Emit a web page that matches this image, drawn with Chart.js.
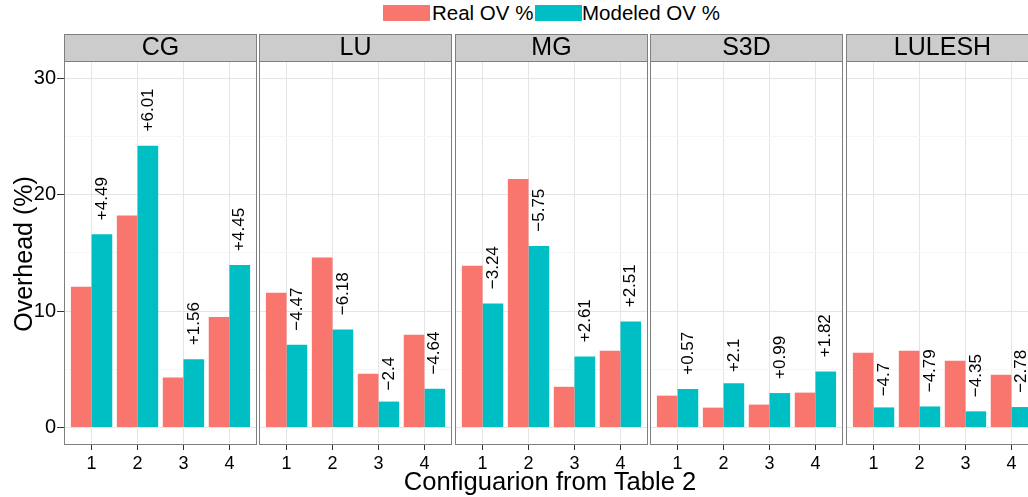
<!DOCTYPE html>
<html>
<head>
<meta charset="utf-8">
<script src="https://cdn.jsdelivr.net/npm/chart.js@4.4.1/dist/chart.umd.min.js"></script>
<style>
  body { margin: 0; background: #fff; overflow: hidden; font-family: "Liberation Sans", Arial, sans-serif; }
  #page { position: relative; width: 1028px; height: 497px; overflow: hidden; }
  canvas { position: absolute; top: 34px; }
  .swatch { position: absolute; top: 5px; width: 47px; height: 16px; }
  .legtext { position: absolute; top: 3px; font-size: 20.5px; line-height: 20px; color: #000; white-space: nowrap; }
  #ytitle { position: absolute; left: -127px; top: 239px; width: 300px; height: 30px; line-height: 30px;
            text-align: center; font-size: 25px; transform: rotate(-90deg); white-space: nowrap; }
  #xtitle { position: absolute; left: 300px; top: 466px; width: 500px; height: 30px; line-height: 30px;
            text-align: center; font-size: 25.6px; white-space: nowrap; }
</style>
</head>
<body>
<div id="page">
  <div class="swatch" style="left:383px;background:#F8766D"></div>
  <div class="legtext" style="left:432px">Real OV %</div>
  <div class="swatch" style="left:535px;background:#00BFC4"></div>
  <div class="legtext" style="left:582px">Modeled OV %</div>

  <canvas id="cCG" width="257" height="463" style="left:0px"></canvas>
  <canvas id="cLU" width="193" height="463" style="left:259px"></canvas>
  <canvas id="cMG" width="193" height="463" style="left:455px"></canvas>
  <canvas id="cS3D" width="193" height="463" style="left:650px"></canvas>
  <canvas id="cLULESH" width="193" height="463" style="left:846px"></canvas>

  <div id="ytitle">Overhead (%)</div>
  <div id="xtitle">Configuarion from Table 2</div>
</div>

<script>
const configs = ['1', '2', '3', '4'];
const yTicks = [0, 5, 10, 15, 20, 25, 30];

// values
const realCG = [12.1, 18.2, 4.3, 9.5];
const modelCG = [16.59, 24.21, 5.86, 13.95];
const diffCG = ['+4.49', '+6.01', '+1.56', '+4.45'];

const realLU = [11.57, 14.6, 4.63, 7.97];
const modelLU = [7.1, 8.42, 2.23, 3.33];
const diffLU = ['\u22124.47', '\u22126.18', '\u22122.4', '\u22124.64'];

const realMG = [13.9, 21.35, 3.5, 6.6];
const modelMG = [10.66, 15.6, 6.11, 9.11];
const diffMG = ['\u22123.24', '\u22125.75', '+2.61', '+2.51'];

const realS3D = [2.74, 1.71, 1.97, 3.0];
const modelS3D = [3.31, 3.81, 2.96, 4.82];
const diffS3D = ['+0.57', '+2.1', '+0.99', '+1.82'];

const realLULESH = [6.43, 6.6, 5.74, 4.54];
const modelLULESH = [1.73, 1.81, 1.39, 1.76];
const diffLULESH = ['\u22124.7', '\u22124.79', '\u22124.35', '\u22122.78'];

const FONT = '"Liberation Sans", Arial, sans-serif';

// grey strip on top + border around the panel
const facetPlugin = {
    id: 'facet',
    beforeDraw(chart, args, opts) {
        const ctx = chart.ctx;
        const a = chart.chartArea;
        ctx.save();
        ctx.fillStyle = '#CCCCCC';
        ctx.fillRect(a.left, 0, a.right - a.left, a.top);
        ctx.strokeStyle = '#7F7F7F';
        ctx.lineWidth = 1;
        ctx.strokeRect(a.left + 0.5, 0.5, a.right - a.left - 1, a.top);
        ctx.fillStyle = '#000';
        ctx.font = '25px ' + FONT;
        ctx.textAlign = 'center';
        ctx.textBaseline = 'middle';
        ctx.fillText(opts.title, (a.left + a.right) / 2, 14);
        ctx.restore();
    },
    afterDraw(chart) {
        const ctx = chart.ctx;
        const a = chart.chartArea;
        ctx.save();
        ctx.strokeStyle = '#7F7F7F';
        ctx.lineWidth = 1;
        ctx.strokeRect(a.left + 0.5, a.top + 0.5, a.right - a.left - 1, a.bottom - a.top - 1);
        ctx.restore();
    }
};

// rotated difference labels above the modeled bars
const diffPlugin = {
    id: 'diffs',
    afterDatasetsDraw(chart, args, opts) {
        const ctx = chart.ctx;
        const meta = chart.getDatasetMeta(1);
        ctx.save();
        ctx.font = '17px ' + FONT;
        ctx.fillStyle = '#000';
        ctx.textAlign = 'left';
        ctx.textBaseline = 'middle';
        meta.data.forEach((bar, i) => {
            const txt = opts.labels[i];
            const gap = ctx.measureText(txt).width * 0.33;
            ctx.save();
            ctx.translate(bar.x, bar.y - gap);
            ctx.rotate(-Math.PI / 2);
            ctx.fillText(txt, 0, 0);
            ctx.restore();
        });
        ctx.restore();
    }
};

function makePanel(id, title, real, modeled, diffs, showY) {
    new Chart(document.getElementById(id), {
        type: 'bar',
        data: {
            labels: configs,
            datasets: [{
                label: 'Real OV %',
                data: real,
                backgroundColor: '#F8766D',
                categoryPercentage: 0.9,
                barPercentage: 1.0
            }, {
                label: 'Modeled OV %',
                data: modeled,
                backgroundColor: '#00BFC4',
                categoryPercentage: 0.9,
                barPercentage: 1.0
            }]
        },
        options: {
            responsive: false,
            animation: false,
            layout: { padding: { top: 27 } },
            plugins: {
                legend: { display: false },
                tooltip: { enabled: false },
                facet: { title: title },
                diffs: { labels: diffs }
            },
            scales: {
                x: {
                    type: 'linear',
                    min: 0.4,
                    max: 4.6,
                    offset: false,
                    afterBuildTicks: (scale) => {
                        scale.ticks = configs.map((c, i) => ({ value: i + 1 }));
                    },
                    afterFit: (scale) => { scale.height = 52; },
                    border: { display: false },
                    grid: {
                        offset: false,
                        color: '#E5E5E5',
                        tickColor: '#333333',
                        tickLength: 5
                    },
                    ticks: {
                        padding: 3,
                        color: '#000',
                        font: { family: FONT, size: 18 },
                        maxRotation: 0,
                        callback: (v, i) => configs[i]
                    }
                },
                y: {
                    min: -1.5,
                    max: 31.48,
                    afterBuildTicks: (scale) => {
                        scale.ticks = yTicks.map(v => ({ value: v }));
                    },
                    afterFit: (scale) => { scale.width = showY ? 64 : 0; },
                    border: { display: false },
                    grid: {
                        color: (c) => c.tick && c.tick.value % 10 === 0 ? '#E5E5E5' : '#F6F6F6',
                        tickColor: (c) => c.tick && c.tick.value % 10 === 0 ? '#333333' : 'rgba(0,0,0,0)',
                        drawTicks: showY,
                        tickLength: 7
                    },
                    ticks: {
                        display: showY,
                        padding: 1,
                        color: '#000',
                        font: { family: FONT, size: 20 },
                        callback: (v) => v % 10 === 0 ? String(v) : ''
                    }
                }
            }
        },
        plugins: [facetPlugin, diffPlugin]
    });
}

makePanel('cCG', 'CG', realCG, modelCG, diffCG, true);
makePanel('cLU', 'LU', realLU, modelLU, diffLU, false);
makePanel('cMG', 'MG', realMG, modelMG, diffMG, false);
makePanel('cS3D', 'S3D', realS3D, modelS3D, diffS3D, false);
makePanel('cLULESH', 'LULESH', realLULESH, modelLULESH, diffLULESH, false);
</script>
</body>
</html>
